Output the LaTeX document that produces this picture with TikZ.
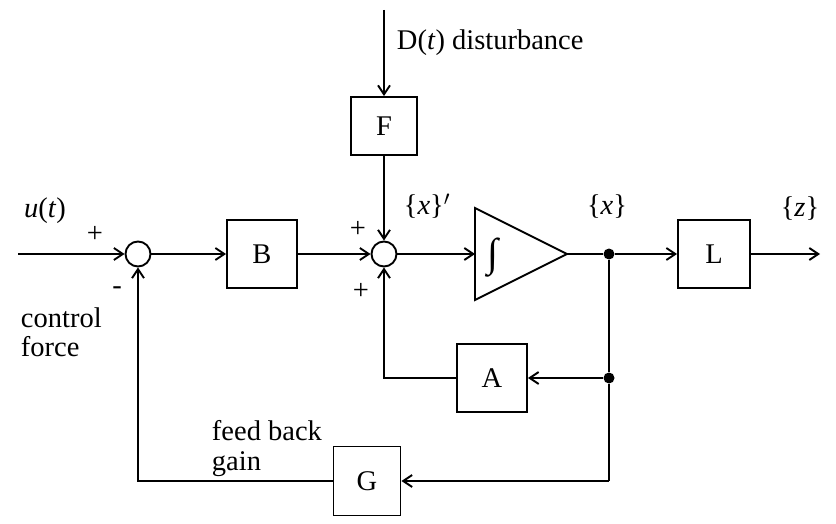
\documentclass[tikz,border=0pt]{standalone}
\usepackage{fontspec}
\setmainfont{Liberation Serif}
\usetikzlibrary{arrows.meta}
\begin{document}
\begin{tikzpicture}[x=1pt,y=-1pt, line width=1.9pt, font=\fontsize{28.5}{31}\selectfont,
 blk/.style={draw, minimum width=70pt, minimum height=68pt, inner sep=0},
 sumj/.style={draw, circle, minimum size=25pt, inner sep=0},
 arr/.style={-{Straight Barb[length=9pt,width=12pt,line width=1.9pt]}},
 dotn/.style={circle, fill, inner sep=0, minimum size=11pt},
 lbl/.style={inner sep=0}]
\useasboundingbox (0,0) rectangle (836,524);
\coordinate (in) at (18,254);
\node[sumj] (s1) at (138,254) {};
\node[blk] (B) at (262,254) {B};
\node[sumj] (s2) at (384,254) {};
\coordinate (dtop) at (384,10);
\node[blk, minimum width=66pt, minimum height=58pt] (F) at (384,126) {F};
\coordinate (t1) at (475,208);
\coordinate (t2) at (475,300);
\coordinate (intout) at (567,254);
\coordinate (intin) at (475,254);
\draw (t1) -- (intout) -- (t2) -- cycle;
\node[lbl] (int) at (493,258) {\fontsize{40}{40}\selectfont ∫};
\node[dotn] (d1) at (609,254) {};
\node[blk, minimum width=72pt] (L) at (714,254) {L};
\coordinate (out) at (820,254);
\node[dotn] (d2) at (609,378) {};
\node[blk] (A) at (492,378) {A};
\node[blk, minimum width=67pt, minimum height=69pt] (G) at (367,481) {G};
\coordinate (gc) at (609,481);

\draw[arr] (in) -- (s1);
\draw[arr] (s1) -- (B);
\draw[arr] (B) -- (s2);
\draw[arr] (dtop) -- (F);
\draw[arr] (F) -- (s2);
\draw[arr] (s2) -- (intin);
\draw (intout) -- (d1);
\draw[arr] (d1) -- (L);
\draw[arr] (L) -- (out);
\draw (d1) -- (d2);
\draw[arr] (d2) -- (A);
\draw[arr] (A.west) -| (s2.south);
\draw (d2) -- (gc);
\draw[arr] (gc) -- (G);
\draw[arr] (G.west) -| (s1.south);

\node[lbl] (u) at (45,211) {\textit{u}(\textit{t})};
\node[lbl] (p1) at (95,234) {+};
\node[lbl] (m1) at (117,291) {-};
\node[lbl, anchor=west] (cf1) at (20,318) {control};
\node[lbl, anchor=west] (cf2) at (20,347) {force};
\node[lbl] (p2) at (358,229) {+};
\node[lbl] (p3) at (361,291) {+};
\node[lbl] (xd) at (427,206) {\{\textit{x}\}$'$};
\node[lbl] (xl) at (607,207) {\{\textit{x}\}};
\node[lbl] (zl) at (800,209) {\{\textit{z}\}};
\node[lbl, anchor=west] (dl) at (396,43) {D(\textit{t}) disturbance};
\node[lbl, anchor=west] (fb1) at (211,431) {feed back};
\node[lbl, anchor=west] (fb2) at (211,464) {gain};
\end{tikzpicture}
\end{document}
